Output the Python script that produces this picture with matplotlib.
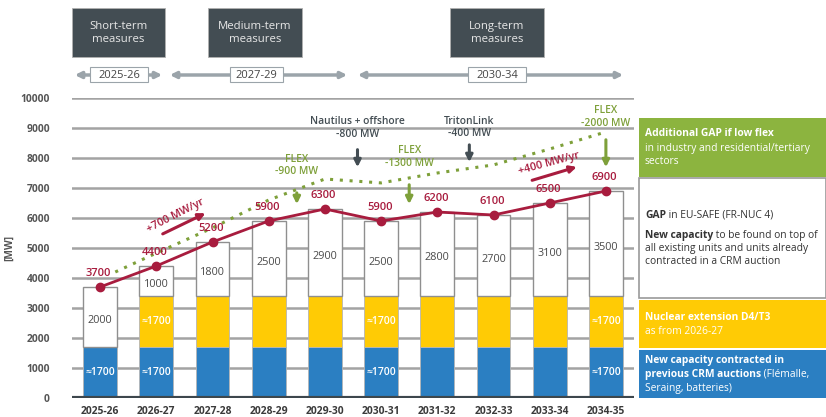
import matplotlib
matplotlib.use("Agg")
import matplotlib.pyplot as plt
from matplotlib.patches import Rectangle, FancyArrowPatch
import numpy as np

plt.rcParams['font.family'] = ['Open Sans', 'DejaVu Sans']

# ---------------- data ----------------
years = ["2025-26", "2026-27", "2027-28", "2028-29", "2029-30",
         "2030-31", "2031-32", "2032-33", "2033-34", "2034-35"]
crm_prev = [1700] * 10
nuclear_ext = [0, 1700, 1700, 1700, 1700, 1700, 1700, 1700, 1700, 1700]
gap_new = [2000, 1000, 1800, 2500, 2900, 2500, 2800, 2700, 3100, 3500]
gap_total = [3700, 4400, 5200, 5900, 6300, 5900, 6200, 6100, 6500, 6900]
lowflex_pos = [0.27, 1, 2, 3, 4, 5, 6, 7, 8, 9]
lowflex_gap = [4200, 4830, 5670, 6600, 7300, 7170, 7500, 7770, 8300, 8870]
approx_label_blue = [True, True, False, False, False, True, False, False, False, True]
approx_label_yellow = [False, True, False, False, False, True, False, False, False, True]
yticks = list(range(0, 10001, 1000))

W, H = 826, 417
fig = plt.figure(figsize=(W / 100, H / 100), dpi=100)

def fx(px):
    return px / W

def fy(py):
    return 1 - py / H

ax = fig.add_axes([fx(72), fy(398), fx(634) - fx(72), fy(98) - fy(398)])

BLUE = "#2b7fc2"
YELLOW = "#ffcb05"
GREEN = "#8cb43f"
RED = "#a81c3e"
DARK = "#434d53"
GRID = "#a3a3a3"
TXT = "#4a4a4a"
FLEXG = "#7ea03a"

x = np.arange(len(years))
bw = 0.6
ax.bar(x, crm_prev, bw, color=BLUE, edgecolor="#b5b5b5", linewidth=0.6, zorder=3)
ax.bar(x, nuclear_ext, bw, bottom=crm_prev, color=YELLOW, edgecolor="#b5b5b5", linewidth=0.6, zorder=3)
bottoms = np.array(crm_prev) + np.array(nuclear_ext)
ax.bar(x, gap_new, bw, bottom=bottoms, color="white", edgecolor="#8f8f8f", linewidth=1.0, zorder=3)

for i in range(len(years)):
    ax.text(x[i], bottoms[i] + gap_new[i] / 2 - 120, str(gap_new[i]), ha="center", va="center",
            fontsize=7.8, color=TXT, zorder=5)
    if approx_label_blue[i]:
        ax.text(x[i], crm_prev[i] / 2, "≈1700", ha="center", va="center", fontsize=7.5,
                color="white", fontweight="semibold", zorder=5)
    if approx_label_yellow[i]:
        ax.text(x[i], crm_prev[i] + nuclear_ext[i] / 2, "≈1700", ha="center", va="center",
                fontsize=7.5, color="white", fontweight="semibold", zorder=5)

# low flex dotted line
ax.plot(lowflex_pos, lowflex_gap, linestyle=(0, (1, 2.2)), color=FLEXG, lw=2.2, zorder=4)

# gap line
ax.plot(x, gap_total, color=RED, lw=2, marker="o", markersize=6, zorder=6)
for i in range(len(years)):
    ax.annotate(str(gap_total[i]), (x[i], gap_total[i]), xytext=(-1, 9.5), textcoords="offset points",
                ha="center", va="center", fontsize=8, color=RED, fontweight="semibold", zorder=7)

# axes styling
ax.set_xlim(-0.5, 9.5)
ax.set_ylim(0, 10000)
ax.set_yticks(yticks)
ax.set_yticklabels([str(v) for v in yticks], fontsize=7.4, color="#555555", fontweight="bold")
ax.set_xticks(x)
ax.set_xticklabels(years, fontsize=7.4, color="#3a3a3a", fontweight="bold")
ax.tick_params(axis="both", length=0)
ax.tick_params(axis="y", pad=16)
ax.tick_params(axis="x", pad=6)
for s in ax.spines.values():
    s.set_visible(False)
for v in yticks[1:]:
    ax.axhline(v, color=GRID, lw=1.8, zorder=1)
ax.axhline(0, color="#3d474d", lw=3, zorder=6)
ax.set_ylabel("[MW]", fontsize=7.4, color="#555555", fontweight="bold")
ax.yaxis.set_label_coords(-0.102, 0.5)

# trend arrows
ax.annotate("", xy=(1.92, 6200), xytext=(1.07, 5430),
            arrowprops=dict(arrowstyle="-|>", color=RED, lw=2.2, mutation_scale=10), zorder=7)
ax.text(1.35, 6080, "+700 MW/yr", rotation=27, ha="center", va="center", fontsize=7.8,
        color=RED, fontweight="semibold", zorder=7)
ax.annotate("", xy=(8.53, 7730), xytext=(7.64, 7230),
            arrowprops=dict(arrowstyle="-|>", color=RED, lw=2.2, mutation_scale=10), zorder=7)
ax.text(7.98, 7820, "+400 MW/yr", rotation=15, ha="center", va="center", fontsize=7.8,
        color=RED, fontweight="semibold", zorder=7)

# event annotations
def event(xc, y1, label, ya, yb, color, fs=7.4):
    ax.text(xc, y1, label, ha="center", va="center", fontsize=fs, color=color,
            fontweight="semibold", linespacing=1.15, zorder=7)
    ax.annotate("", xy=(xc, yb), xytext=(xc, ya),
                arrowprops=dict(arrowstyle="-|>", color=color, lw=2.2, mutation_scale=10), zorder=7)

event(3.5, 7750, "FLEX\n-900 MW", 6930, 6370, FLEXG)
event(4.58, 9000, "Nautilus + offshore\n-800 MW", 8370, 7600, DARK)
event(5.5, 8030, "FLEX\n-1300 MW", 7200, 6370, FLEXG)
event(6.57, 9010, "TritonLink\n-400 MW", 8530, 7770, DARK)
event(9.0, 9370, "FLEX\n-2000 MW", 8700, 7600, FLEXG)

# top phase boxes
phases = [("Short-term\nmeasures", 72, 165), ("Medium-term\nmeasures", 208, 302), ("Long-term\nmeasures", 450, 544)]
for label, x0, x1 in phases:
    fig.patches.append(Rectangle((fx(x0), fy(57)), fx(x1) - fx(x0), fy(8) - fy(57),
                                 transform=fig.transFigure, facecolor=DARK, edgecolor="#b0b0b0", lw=0.6))
    fig.text(fx((x0 + x1) / 2), fy(33), label, ha="center", va="center", fontsize=8.2,
             color="#e8e8e8", linespacing=1.3)

spans = [("2025-26", 72, 165, 90, 148), ("2027-29", 167, 350, 230, 283), ("2030-34", 355, 626, 468, 526)]
for lab, a0, a1, b0, b1 in spans:
    arr = FancyArrowPatch((fx(a0), fy(75)), (fx(a1), fy(75)), transform=fig.transFigure,
                          arrowstyle="<|-|>", mutation_scale=9, color="#9ba4aa", lw=2.5)
    fig.patches.append(arr)
    fig.patches.append(Rectangle((fx(b0), fy(82)), fx(b1) - fx(b0), fy(67) - fy(82),
                                 transform=fig.transFigure, facecolor="white", edgecolor="#9ba4aa", lw=0.8,
                                 zorder=5))
    fig.text(fx((b0 + b1) / 2), fy(75), lab, ha="center", va="center", fontsize=8, color="#444444",
             zorder=6)

# right legend boxes
bx0 = 639
boxes = [(118, 177, GREEN, "none"), (178, 298, "white", "#9a9a9a"), (300, 348, YELLOW, "none"),
         (350, 398, BLUE, "none")]
for t, b, fc, ec in boxes:
    fig.patches.append(Rectangle((fx(bx0), fy(b)), fx(W) - fx(bx0), fy(t) - fy(b),
                                 transform=fig.transFigure, facecolor=fc, edgecolor=ec, lw=1.2))

renderer = fig.canvas.get_renderer()

def runs(px, py, parts, color, fs=7.4):
    cx = px
    for txt, wt in parts:
        t = fig.text(fx(cx), fy(py), txt, ha="left", va="center", fontsize=fs, color=color,
                     fontweight=wt)
        cx += t.get_window_extent(renderer).width

tx = 645
runs(tx, 134, [("Additional GAP if low flex", "bold")], "white")
runs(tx, 148, [("in industry and residential/tertiary", "normal")], "white")
runs(tx, 161, [("sectors", "normal")], "white")
runs(tx, 215, [("GAP", "bold"), (" in EU-SAFE (FR-NUC 4)", "normal")], "#333333")
runs(tx, 235, [("New capacity", "bold"), (" to be found on top of", "normal")], "#333333")
runs(tx, 249, [("all existing units and units already", "normal")], "#333333")
runs(tx, 262, [("contracted in a CRM auction", "normal")], "#333333")
runs(tx, 318, [("Nuclear extension D4/T3", "bold")], "white")
runs(tx, 332, [("as from 2026-27", "normal")], "white")
runs(tx, 360, [("New capacity contracted in", "bold")], "white")
runs(tx, 374, [("previous CRM auctions", "bold"), (" (Flémalle,", "normal")], "white")
runs(tx, 388, [("Seraing, batteries)", "normal")], "white")

fig.savefig("out.png", dpi=100)
